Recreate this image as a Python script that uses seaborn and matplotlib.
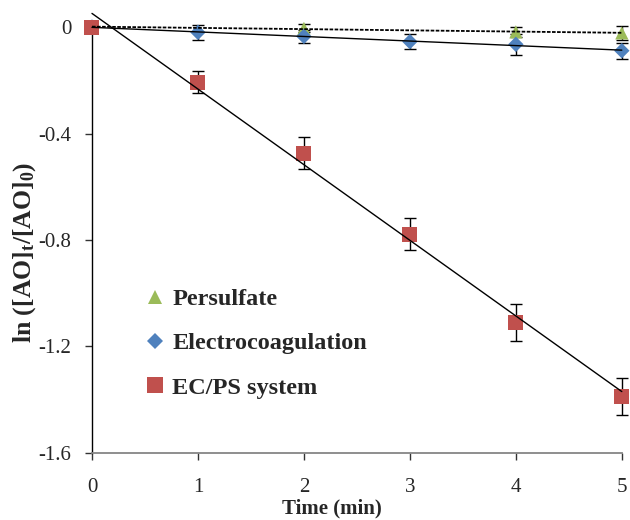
import numpy as np
import pandas as pd
import matplotlib
matplotlib.use("Agg")
import matplotlib.pyplot as plt
import seaborn as sns
from matplotlib.lines import Line2D

# ---------------- data ----------------
series_names = ["Persulfate", "Electrocoagulation", "EC/PS system"]

time_ps = [0, 2, 4, 5]
ps_vals = [0.0, -0.005, -0.018, -0.022]
ps_err = [0.0, 0.015, 0.02, 0.026]

time_all = [0, 1, 2, 3, 4, 5]
ec_vals = [0.0, -0.020, -0.035, -0.055, -0.065, -0.089]
ec_err = [0.0, 0.028, 0.025, 0.027, 0.04, 0.03]

ecps_vals = [0.0, -0.207, -0.474, -0.778, -1.109, -1.387]
ecps_err = [0.0, 0.04, 0.06, 0.06, 0.07, 0.07]

x_ticks = [0, 1, 2, 3, 4, 5]
y_ticks = [0, -0.4, -0.8, -1.2, -1.6]
y_tick_labels = ["0", "-0.4", "-0.8", "-1.2", "-1.6"]

colors = ["#9BBB59", "#4F81BD", "#C0504D"]
markers = ["^", "D", "s"]
sizes = [90, 62, 117]

# ---------------- style ----------------
sns.set_theme(style="white")
plt.rcParams["font.family"] = ["Liberation Serif", "DejaVu Serif"]
plt.rcParams["mathtext.fontset"] = "custom"
plt.rcParams["mathtext.rm"] = "Liberation Serif:bold"
plt.rcParams["mathtext.it"] = "Liberation Serif:bold"
plt.rcParams["mathtext.bf"] = "Liberation Serif:bold"
plt.rcParams["axes.unicode_minus"] = False

fig = plt.figure(figsize=(6.3, 5.2), dpi=100)
ax = fig.add_axes([0.146, 0.129, 0.841, 0.819])

frames = [
    pd.DataFrame({"Time": time_ps, "val": ps_vals, "err": ps_err, "Series": series_names[0]}),
    pd.DataFrame({"Time": time_all, "val": ec_vals, "err": ec_err, "Series": series_names[1]}),
    pd.DataFrame({"Time": time_all, "val": ecps_vals, "err": ecps_err, "Series": series_names[2]}),
]

# trendlines
line_styles = [(0, (2, 0.8)), "-", "-"]
line_widths = [1.3, 1.0, 1.0]
for d, ls, lw in zip(frames, line_styles, line_widths):
    sns.regplot(data=d, x="Time", y="val", scatter=False, ci=None, color="black",
                truncate=True, ax=ax,
                line_kws=dict(lw=lw, ls=ls, clip_on=False, zorder=4))

# error bars + markers
for d, c, m, s in zip(frames, colors, markers, sizes):
    ax.errorbar(d["Time"], d["val"], yerr=d["err"], fmt="none", ecolor="black",
                elinewidth=1.0, capsize=4, capthick=1.0, zorder=2, clip_on=False)
    sns.scatterplot(data=d, x="Time", y="val", marker=m, color=c, s=s,
                    edgecolor="none", linewidth=0, zorder=3, clip_on=False,
                    legend=False, ax=ax)

ax.set_xlim(0, 5)
ax.set_ylim(-1.6, 0)
ax.set_xticks(x_ticks)
ax.set_xticklabels([str(t) for t in x_ticks])
ax.set_yticks(y_ticks)
ax.set_yticklabels(y_tick_labels)

for side in ["top", "right"]:
    ax.spines[side].set_visible(False)
ax.spines["left"].set_color("black")
ax.spines["left"].set_linewidth(1.0)
ax.spines["bottom"].set_color("#868686")
ax.spines["bottom"].set_linewidth(1.3)

ax.tick_params(axis="x", direction="out", length=5, width=1.0, color="#333333",
               pad=13, labelsize=15, bottom=True)
ax.tick_params(axis="y", direction="out", length=5, width=1.0, color="#333333",
               pad=10, labelsize=15, left=True)

ax.set_xlabel("Time (min)", fontsize=15, fontweight="bold")
ax.xaxis.set_label_coords(0.453, -0.108)
ax.set_ylabel(r"ln ([AO]$_\mathrm{t}$/[AO]$_\mathrm{0}$)", fontsize=18.5, fontweight="bold")
ax.yaxis.set_label_coords(-0.102, 0.472)

handles = [Line2D([], [], linestyle="none", marker=m, color=c, markersize=np.sqrt(s),
                  markeredgewidth=0) for c, m, s in zip(colors, markers, sizes)]
ax.legend(handles, series_names, loc="upper left", bbox_to_anchor=(0.083, 0.41),
          frameon=False, handlelength=0.8, handletextpad=0.3, labelspacing=0.92,
          borderaxespad=0, prop={"weight": "bold", "size": 17.5})

fig.savefig("out.png", dpi=100)
